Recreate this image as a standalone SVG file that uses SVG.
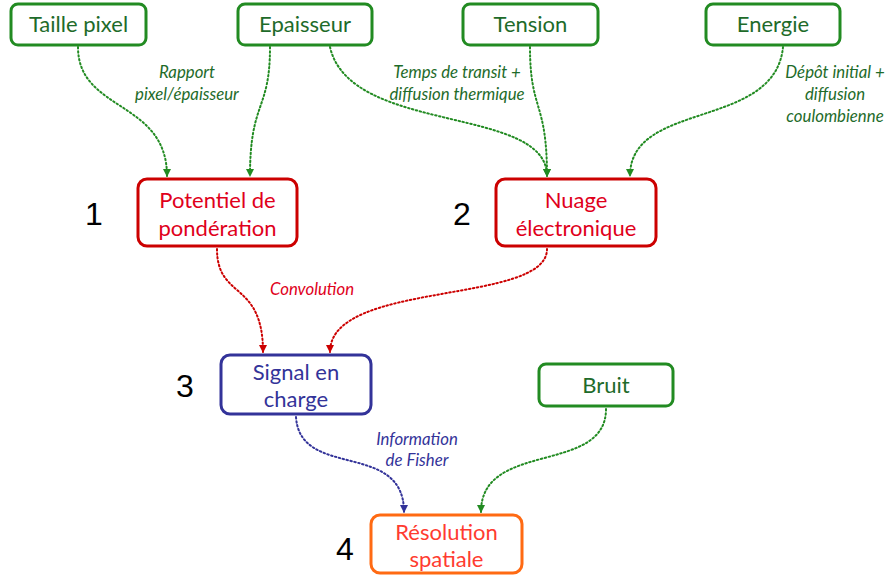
<svg xmlns="http://www.w3.org/2000/svg" width="889" height="581" viewBox="0 0 889 581">
<style>
.box{fill:#fff;stroke-width:3}
.g{stroke:#228b22}
.r{stroke:#cc0000}
.b{stroke:#333399}
.o{stroke:#ff6a13}
.t{font-family:Lato,"Open Sans",sans-serif;font-size:22px;text-anchor:middle}
.tg{fill:#1e6b2a}
.tr{fill:#e0001b}
.tb{fill:#333399}
.to{fill:#ff3b30}
.lab{font-family:Lato,"Open Sans",sans-serif;font-size:16.8px;font-style:italic;text-anchor:middle}
.num{font-family:"Liberation Sans",Arial,sans-serif;font-size:32px;fill:#000;text-anchor:middle}
.c{fill:none;stroke-width:2;stroke-dasharray:1.5 2.5;stroke-linecap:round}
</style>
<defs>
<marker id="ag" markerWidth="8" markerHeight="8" refX="4" refY="7" markerUnits="userSpaceOnUse" viewBox="0 0 8 8"><path d="M0,0 L8,0 L4,8 Z" fill="#228b22"/></marker>
<marker id="ar" markerWidth="8" markerHeight="8" refX="4" refY="7" markerUnits="userSpaceOnUse" viewBox="0 0 8 8"><path d="M0,0 L8,0 L4,8 Z" fill="#cc0000"/></marker>
<marker id="ab" markerWidth="8" markerHeight="8" refX="4" refY="7" markerUnits="userSpaceOnUse" viewBox="0 0 8 8"><path d="M0,0 L8,0 L4,8 Z" fill="#333399"/></marker>
</defs>
<g id="connectors">
<path class="c g" d="M78,47 C78,112 167,100 167,176" marker-end="url(#ag)"/>
<path class="c g" d="M270,47 C270,112 250,100 250,176" marker-end="url(#ag)"/>
<path class="c g" d="M330,47 C350,135 547,105 547,176" marker-end="url(#ag)"/>
<path class="c g" d="M530,47 C530,112 547,100 547,176" marker-end="url(#ag)"/>
<path class="c g" d="M783,47 C775,130 630,100 630,176" marker-end="url(#ag)"/>
<path class="c r" d="M217,249 C217,300 263,280 263,352" marker-end="url(#ar)"/>
<path class="c r" d="M547,249 C547,305 330,280 330,352" marker-end="url(#ar)"/>
<path class="c b" d="M296,417 C300,480 404,440 404,512" marker-end="url(#ab)"/>
<path class="c g" d="M606,409 C606,475 481,440 481,512" marker-end="url(#ag)"/>
</g>
<g id="labels">
<text class="lab tg" x="187" y="78">Rapport</text>
<text class="lab tg" x="187" y="100">pixel/épaisseur</text>
<text class="lab tg" x="457" y="78">Temps de transit +</text>
<text class="lab tg" x="457" y="100">diffusion thermique</text>
<text class="lab tg" x="835" y="78">Dépôt initial +</text>
<text class="lab tg" x="835" y="100">diffusion</text>
<text class="lab tg" x="835" y="122">coulombienne</text>
<text class="lab tr" x="312" y="295">Convolution</text>
<text class="lab tb" x="417" y="445">Information</text>
<text class="lab tb" x="417" y="466">de Fisher</text>
</g>
<g id="n-taille"><rect class="box g" x="11" y="4" width="135" height="41" rx="7"/><text class="t tg" x="78.5" y="32">Taille pixel</text></g>
<g id="n-epaisseur"><rect class="box g" x="238" y="4" width="134" height="41" rx="7"/><text class="t tg" x="305" y="32">Epaisseur</text></g>
<g id="n-tension"><rect class="box g" x="463" y="4" width="135" height="41" rx="7"/><text class="t tg" x="530.5" y="32">Tension</text></g>
<g id="n-energie"><rect class="box g" x="706" y="4" width="134" height="41" rx="7"/><text class="t tg" x="773" y="32">Energie</text></g>
<g id="n-potentiel"><rect class="box r" x="138" y="179" width="159" height="67" rx="9"/><text class="t tr" x="217.5" y="208">Potentiel de</text><text class="t tr" x="217.5" y="236">pondération</text></g>
<g id="n-nuage"><rect class="box r" x="496" y="179" width="160" height="67" rx="9"/><text class="t tr" x="576" y="208">Nuage</text><text class="t tr" x="576" y="236">électronique</text></g>
<g id="n-signal"><rect class="box b" x="221" y="355" width="150" height="59" rx="9"/><text class="t tb" x="296" y="380">Signal en</text><text class="t tb" x="296" y="407">charge</text></g>
<g id="n-bruit"><rect class="box g" x="539" y="364" width="134" height="42" rx="7"/><text class="t tg" x="606" y="393">Bruit</text></g>
<g id="n-resolution"><rect class="box o" x="371" y="515" width="151" height="58" rx="9"/><text class="t to" x="446.5" y="540">Résolution</text><text class="t to" x="446.5" y="567">spatiale</text></g>
<g id="numbers">
<text class="num" x="94" y="225">1</text>
<text class="num" x="462" y="225">2</text>
<text class="num" x="185" y="397">3</text>
<text class="num" x="345" y="560">4</text>
</g>
</svg>
